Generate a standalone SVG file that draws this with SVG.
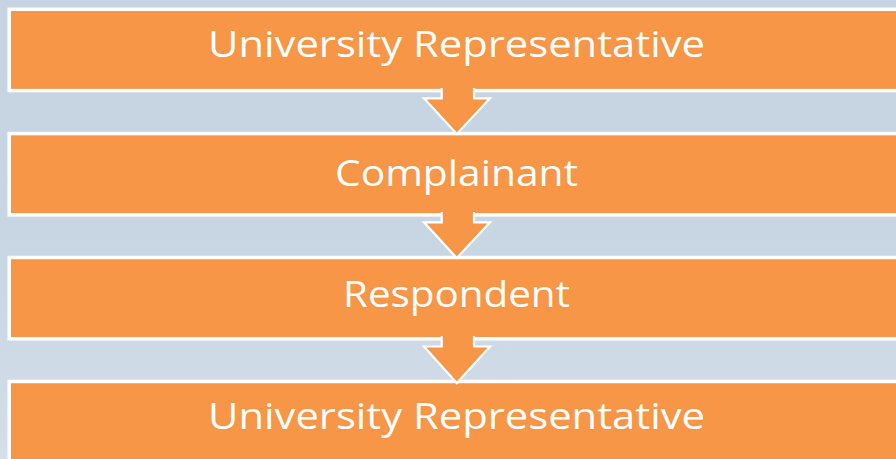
<svg xmlns="http://www.w3.org/2000/svg" width="896" height="459" viewBox="0 0 896 459">
<defs>
<linearGradient id="bg" x1="0" y1="0" x2="0" y2="1">
<stop offset="0" stop-color="#c5d3e2"/>
<stop offset="0.6" stop-color="#c9d6e4"/>
<stop offset="1" stop-color="#d5dee9"/>
</linearGradient>
<style>
.box{fill:#f79646;stroke:#ffffff;stroke-width:3.5}
.arr{fill:#f79646;stroke:#ffffff;stroke-width:2.2;stroke-linejoin:miter}
.lbl{fill:#ffffff;font-family:"Open Sans","Noto Sans",sans-serif;font-size:37px;text-anchor:middle}
</style>
</defs>
<rect x="0" y="0" width="896" height="459" fill="url(#bg)"/>
<g id="node1"><rect class="box" x="9.2" y="9.3" width="900" height="81.3"/><text class="lbl" x="456.5" y="57.3" textLength="497" lengthAdjust="spacingAndGlyphs">University Representative</text></g>
<g id="node2"><rect class="box" x="9.2" y="133.6" width="900" height="81.3"/><text class="lbl" x="456.5" y="186" textLength="243" lengthAdjust="spacingAndGlyphs">Complainant</text></g>
<g id="node3"><rect class="box" x="9.2" y="257.5" width="900" height="81.3"/><text class="lbl" x="456.5" y="307.3" textLength="227" lengthAdjust="spacingAndGlyphs">Respondent</text></g>
<g id="node4"><rect class="box" x="9.2" y="381.5" width="900" height="100"/><text class="lbl" x="456.5" y="429.3" textLength="497" lengthAdjust="spacingAndGlyphs">University Representative</text></g>
<g id="connectors">
<path class="arr" d="M441.7 88 V98.3 H424 L456.8 134 L490 98.3 H474 V88"/>
<path class="arr" d="M441.7 212 V222.3 H424 L456.8 258 L490 222.3 H474 V212"/>
<path class="arr" d="M441.7 336 V346.5 H424 L456.8 383 L490 346.5 H474 V336"/>
</g>
</svg>
